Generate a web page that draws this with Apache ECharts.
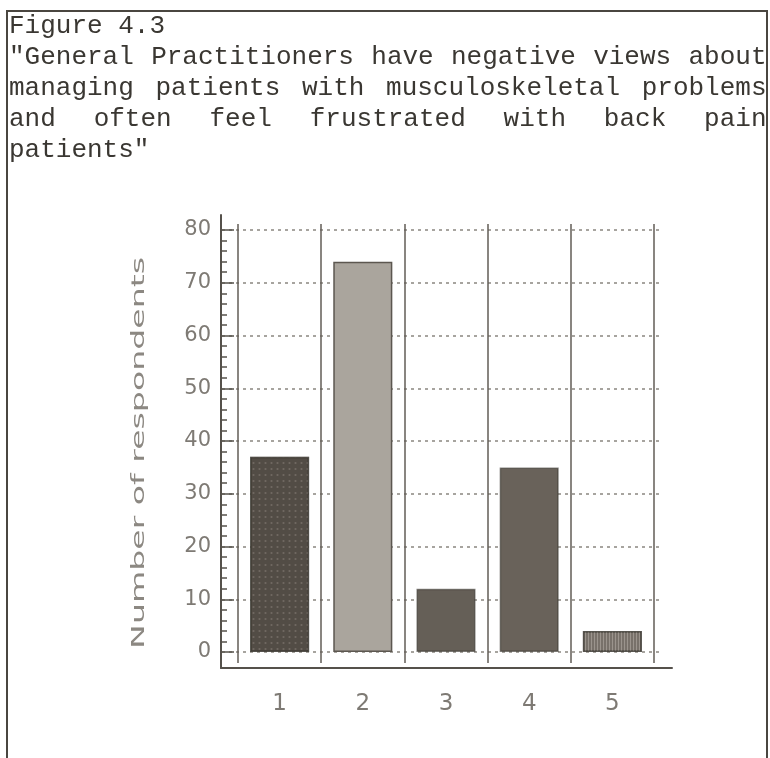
<!DOCTYPE html>
<html>
<head>
<meta charset="utf-8">
<script src="https://cdn.jsdelivr.net/npm/echarts@6/dist/echarts.min.js"></script>
<style>
  html, body { margin: 0; padding: 0; background: #fff; }
  #chart { width: 770px; height: 758px; }
</style>
</head>
<body>
<div id="chart"></div>
<script>
const categories = ['1', '2', '3', '4', '5']
const respondents = [37, 74, 12, 35, 4]
const yTicks = { min: 0, max: 80, interval: 10 }
const titleLines = [
  'Figure 4.3',
  '"General Practitioners have negative views about',
  'managing patients with musculoskeletal problems',
  'and often feel frustrated with back pain',
  'patients"'
]
const justifyLine = [false, true, true, true, false]
const yName = 'Number of respondents'

const barColors = ['#524c45', '#aaa59d', '#655f57', '#69625a', '#78716a']
const INK = '#3a3732'
const AXIS = '#55514b'
const LABEL = '#7e7a74'

// plot geometry (y value 0 at 652px, 80 at 230px)
const Y0 = 652, Y80 = 230
const PX = (Y0 - Y80) / (yTicks.max - yTicks.min)

const decals = [
  { symbol: 'rect', color: 'rgba(215,210,200,0.35)', symbolSize: 0.6, dashArrayX: [3, 3], dashArrayY: [2, 4] },
  null,
  null,
  null,
  { symbol: 'rect', color: 'rgba(220,215,205,0.35)', symbolSize: 1, dashArrayX: [1, 2], dashArrayY: [10, 0] }
]

function titleGraphics() {
  const fs = 26, cw = fs * 0.6, x0 = 9, x1 = 766.5
  const els = []
  titleLines.forEach((line, i) => {
    const y = 26.5 + i * 31
    const style = { fill: INK, fontFamily: "'Liberation Mono', 'DejaVu Sans Mono', monospace", fontSize: fs, verticalAlign: 'middle' }
    if (!justifyLine[i]) {
      els.push({ type: 'text', x: x0, y, style: Object.assign({ text: line }, style) })
      return
    }
    const words = line.split(' ')
    const chars = words.reduce((s, w) => s + w.length, 0)
    const gap = (x1 - x0 - chars * cw) / (words.length - 1)
    let x = x0
    words.map((w) => {
      els.push({ type: 'text', x, y, style: Object.assign({ text: w }, style) })
      x += w.length * cw + gap
    })
  })
  return els
}

const chart = echarts.init(document.getElementById('chart'))

const option = {
  animation: false,
  backgroundColor: '#fff',
  grid: [
    // dotted value grid + labels
    { left: 222, right: 770 - 662, top: Y80, bottom: 758 - Y0 },
    // category columns and bars
    { left: 238, right: 770 - 654, top: 224, bottom: 758 - 663 },
    // L shaped axis frame
    { left: 221, right: 770 - 672, top: 215, bottom: 758 - 668 }
  ],
  xAxis: [
    { gridIndex: 0, type: 'value', show: false },
    {
      gridIndex: 1,
      type: 'category',
      data: categories,
      axisLine: { show: false },
      axisTick: { show: false },
      splitLine: { show: true, lineStyle: { color: '#625d56', width: 1.5 } },
      axisLabel: { margin: 30, fontSize: 23, color: LABEL, fontFamily: 'DejaVu Sans' }
    },
    {
      gridIndex: 2,
      type: 'value',
      axisLine: { show: true, onZero: false, lineStyle: { color: AXIS, width: 2 } },
      axisTick: { show: false },
      axisLabel: { show: false },
      splitLine: { show: false }
    }
  ],
  yAxis: [
    {
      gridIndex: 0,
      type: 'value',
      min: yTicks.min,
      max: yTicks.max,
      interval: yTicks.interval,
      axisLine: { show: false },
      axisTick: { show: true, inside: true, length: 12, lineStyle: { color: AXIS, width: 1.5 } },
      minorTick: { show: true, splitNumber: 5, length: 5, lineStyle: { color: AXIS, width: 1.5 } },
      axisLabel: { margin: 11, fontSize: 21, color: LABEL, fontFamily: 'DejaVu Sans' },
      splitLine: { show: true, lineStyle: { color: '#8a8680', width: 1.5, type: [3, 4] } }
    },
    {
      gridIndex: 1,
      type: 'value',
      show: false,
      min: yTicks.min - (663 - Y0) / PX,
      max: yTicks.max + (Y80 - 224) / PX
    },
    {
      gridIndex: 2,
      type: 'value',
      axisLine: { show: true, onZero: false, lineStyle: { color: AXIS, width: 2 } },
      axisTick: { show: false },
      axisLabel: { show: false },
      splitLine: { show: false }
    }
  ],
  series: [
    {
      type: 'bar',
      xAxisIndex: 1,
      yAxisIndex: 1,
      barWidth: '71%',
      data: respondents.map((v, i) => {
        const itemStyle = {
          color: barColors[i],
          borderColor: i === 1 ? '#5c5750' : 'rgba(60,56,50,0.6)',
          borderWidth: 1.5
        }
        if (decals[i]) itemStyle.decal = decals[i]
        return { value: v, itemStyle }
      })
    }
  ],
  graphic: [
    {
      type: 'rect',
      shape: { x: 7, y: 11, width: 760, height: 800 },
      style: { fill: null, stroke: '#4a4640', lineWidth: 2 }
    },
    {
      type: 'text',
      x: 140,
      y: 453,
      rotation: Math.PI / 2,
      scaleX: 1.95,
      style: {
        text: yName,
        fill: '#8c8882',
        fontSize: 17,
        fontFamily: 'DejaVu Sans',
        align: 'center',
        verticalAlign: 'middle'
      }
    }
  ].concat(titleGraphics())
}

chart.setOption(option)
</script>
</body>
</html>
